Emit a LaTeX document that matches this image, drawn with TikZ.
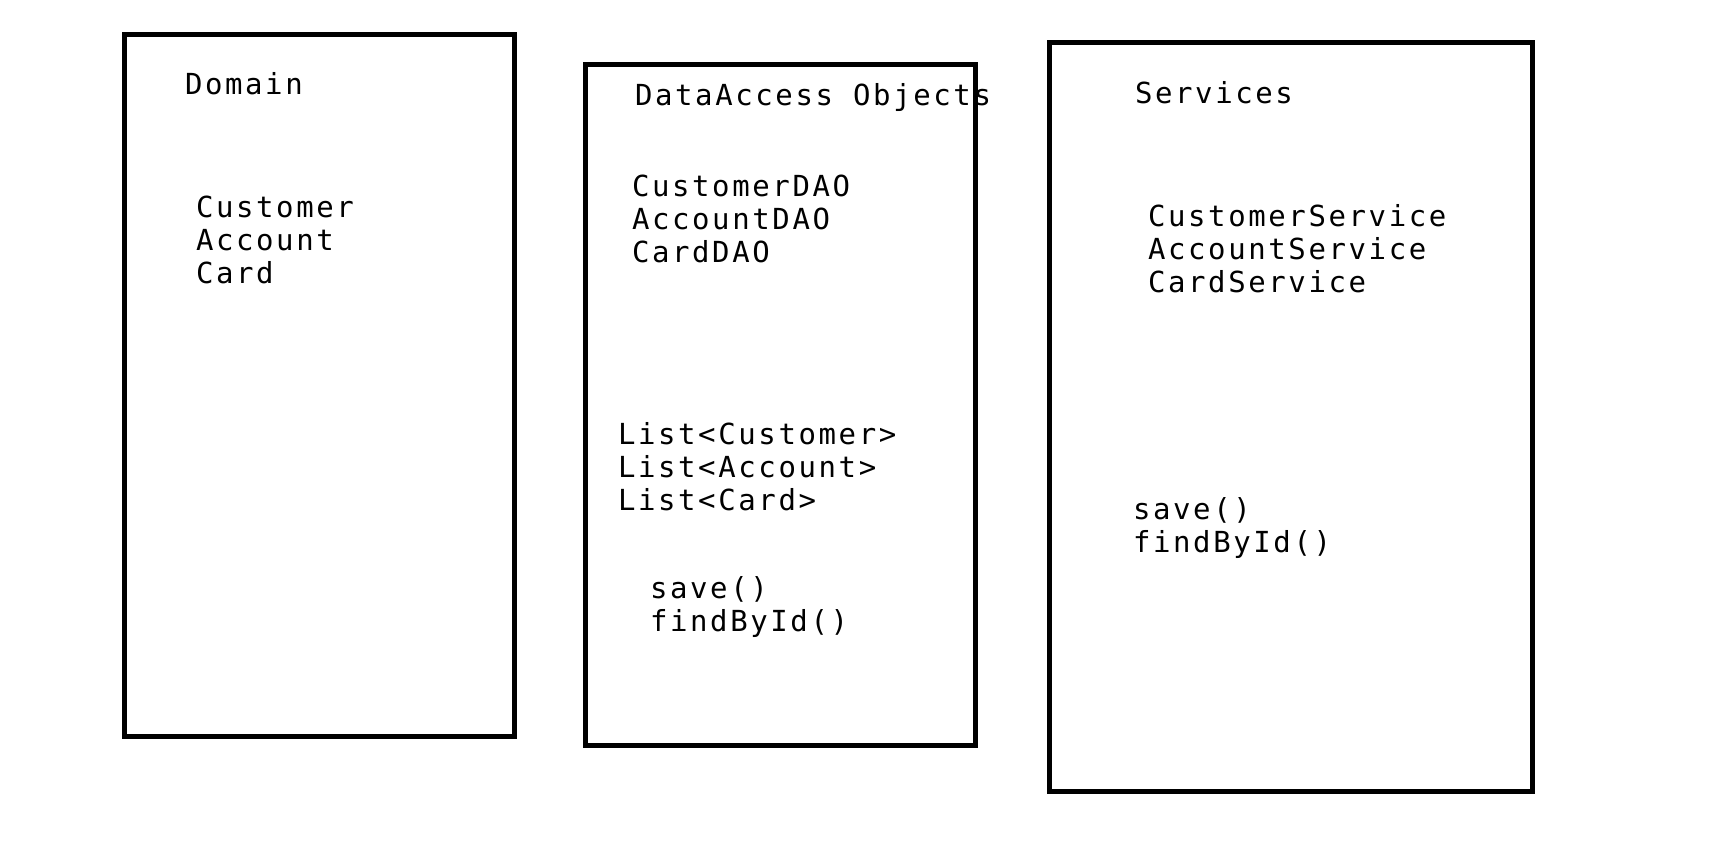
\documentclass[tikz,border=0pt]{standalone}
\usepackage{fontspec}
\newfontfamily\diagmono[LetterSpace=9]{DejaVu Sans Mono}
\begin{document}
\begin{tikzpicture}[x=1pt,y=-1pt,
  boxline/.style={draw=black,line width=5pt},
  lbl/.style={anchor=base west,inner sep=0pt,outer sep=0pt,font=\diagmono\fontsize{29}{33}\selectfont}]
\useasboundingbox[fill=white] (0,0) rectangle (1730,867);
% boxes
\draw[boxline] (124,35) rectangle (514,736);
\draw[boxline] (585,65) rectangle (975,745);
\draw[boxline] (1049,43) rectangle (1532,791);
% Domain
\node[lbl] (dom) at (185,94) {Domain};
\node[lbl] (dcust) at (196,217) {Customer};
\node[lbl] (dacc) at (196,250) {Account};
\node[lbl] (dcard) at (196,283) {Card};
% DataAccess Objects
\node[lbl] (dao) at (635,106) {DataAccess Objects};
\node[lbl] (cdao) at (632,196) {CustomerDAO};
\node[lbl] (adao) at (632,229) {AccountDAO};
\node[lbl] (kdao) at (632,262) {CardDAO};
\node[lbl] (lcust) at (618,444) {List<Customer>};
\node[lbl] (lacc) at (618,477) {List<Account>};
\node[lbl] (lcard) at (618,510) {List<Card>};
\node[lbl] (dsave) at (650,598) {save()};
\node[lbl] (dfind) at (650,631) {findById()};
% Services
\node[lbl] (srv) at (1135,103) {Services};
\node[lbl] (csrv) at (1148,226) {CustomerService};
\node[lbl] (asrv) at (1148,259) {AccountService};
\node[lbl] (ksrv) at (1148,292) {CardService};
\node[lbl] (ssave) at (1133,519) {save()};
\node[lbl] (sfind) at (1133,552) {findById()};
\end{tikzpicture}
\end{document}
